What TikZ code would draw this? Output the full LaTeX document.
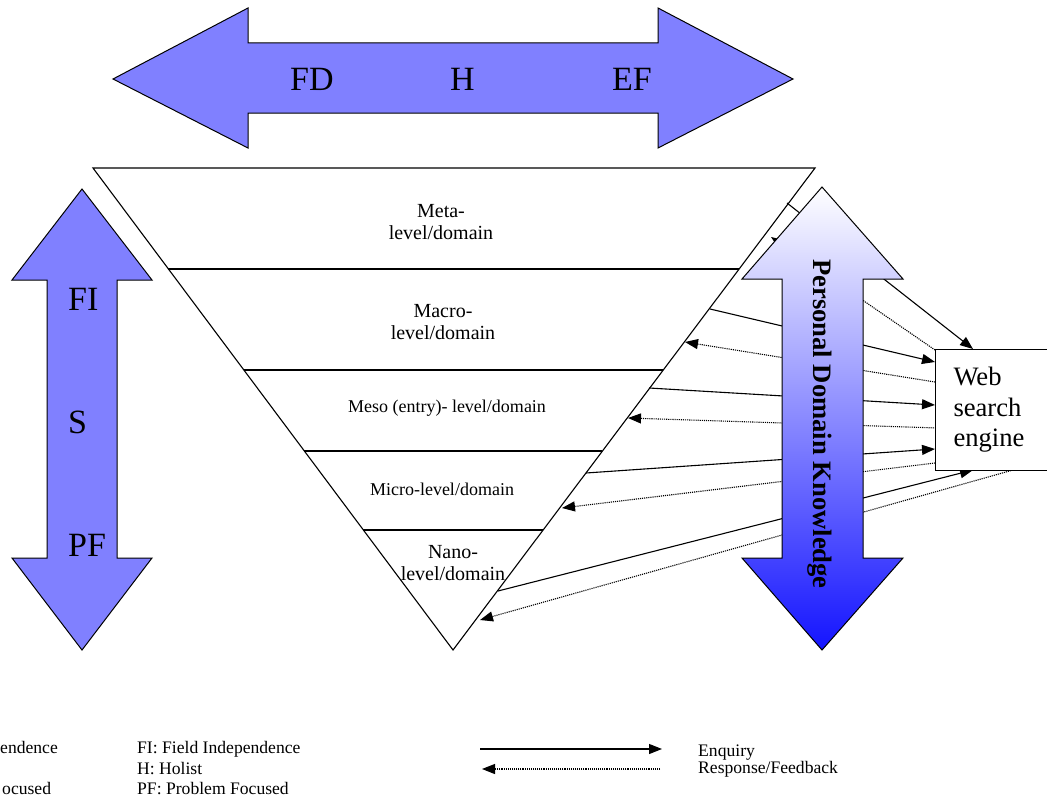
\documentclass[tikz,border=0pt]{standalone}
\usepackage{fontspec}
\setmainfont{Liberation Serif}
\usepackage{tikz}
\usetikzlibrary{arrows.meta,calc}
\definecolor{arrowblue}{RGB}{128,128,255}
\definecolor{paleblue}{RGB}{186,186,255}
\definecolor{deepblue}{RGB}{20,20,255}
\tikzset{
	bigarrow/.style={fill=arrowblue,draw=black,line width=1pt},
	biglabel/.style={anchor=base west,inner sep=0pt,font=\fontsize{34}{36}\selectfont},
	level/.style={align=center,font=\fontsize{20}{22}\selectfont},
	smalllevel/.style={anchor=base,font=\fontsize{18}{20}\selectfont},
	enquiry/.style={-{Triangle[length=13pt,width=10pt]},line width=1.1pt},
	response/.style={-{Triangle[length=13pt,width=10pt]},densely dotted,line width=1.1pt},
	legendtext/.style={anchor=base west,inner sep=0pt,font=\fontsize{17.6}{20}\selectfont}
}

\begin{document}
\begin{tikzpicture}[x=1pt,y=-1pt]
	\useasboundingbox (0,0) rectangle (1047,800);
	\clip (0,0) rectangle (1047,800);
	% levels
	\coordinate (tl) at (93,168);
	\coordinate (tr) at (815,168);
	\coordinate (tb) at (453,650);
	\draw[line width=1.1pt] (tl) -- (tr) -- (tb) -- cycle;
	\foreach \t in {0.2095,0.419,0.5871,0.751}
	{
		\draw[line width=1.1pt] ($(tl)!\t!(tb)$) -- ($(tr)!\t!(tb)$);
	}
	\node[level] (meta) at (441,222) {Meta-\\level/domain};
	\node[level] (macro) at (443,322) {Macro-\\level/domain};
	\node[smalllevel] (meso) at (447,412) {Meso (entry)- level/domain};
	\node[smalllevel] (micro) at (442,495) {Micro-level/domain};
	\node[level] (nano) at (453,563) {Nano-\\level/domain};

	% enquiry / response
	\coordinate (e1) at (787,203);  \coordinate (w1) at (973,349);
	\coordinate (e2) at (710,309);  \coordinate (w2) at (935,362);
	\coordinate (e3) at (649,388);  \coordinate (w3) at (935,405);
	\coordinate (e4) at (586,473);  \coordinate (w4) at (935,449);
	\coordinate (e5) at (498,591);  \coordinate (w5) at (973,470);
	\coordinate (r1) at (935,350);  \coordinate (t1) at (771,237);
	\coordinate (r2) at (935,382);  \coordinate (t2) at (685,342);
	\coordinate (r3) at (938,428);  \coordinate (t3) at (628,418);
	\coordinate (r4) at (935,463);  \coordinate (t4) at (562,508);
	\coordinate (r5) at (1013,470); \coordinate (t5) at (480,620);
	\foreach \i in {1,...,5}
	{
		\draw[enquiry] (e\i) -- (w\i);
		\draw[response] (r\i) -- (t\i);
	}

	% personal domain knowledge
	\path[draw=black,line width=1pt,top color=white,middle color=paleblue,bottom color=deepblue]
		(822,187) -- (903,279) -- (863,279) -- (863,558) -- (903,558) -- (822,650)
		-- (742,558) -- (782,558) -- (782,279) -- (742,279) -- cycle;
	\node[rotate=-90,font=\bfseries\fontsize{26.6}{28}\selectfont] (pdk) at (820,424) {Personal Domain Knowledge};

	\node[draw,fill=white,line width=1pt,anchor=north west,minimum height=121pt,text width=80pt,
		inner xsep=18pt,align=left,font=\fontsize{26.6}{30.5}\selectfont] (web) at (935,349) {Web\\search\\engine};

	% styles
	\filldraw[bigarrow] (113,79) -- (248,8) -- (248,43) -- (658,43) -- (658,8) -- (793,79)
		-- (658,148) -- (658,113) -- (248,113) -- (248,148) -- cycle;
	\node[biglabel] (fd) at (290,90) {FD};
	\node[biglabel] (h) at (450,90) {H};
	\node[biglabel] (ef) at (612,90) {EF};

	\filldraw[bigarrow] (82,189) -- (152,280) -- (117,280) -- (117,558) -- (152,558) -- (82,650)
		-- (12,558) -- (47,558) -- (47,280) -- (12,280) -- cycle;
	\node[biglabel] (fi) at (68,310) {FI};
	\node[biglabel] (s) at (68,433) {S};
	\node[biglabel] (pf) at (68,556) {PF};

	% legend
	\node[legendtext] (dep) at (0,753) {endence};
	\node[legendtext] (foc) at (2,794) {ocused};
	\node[legendtext] (fileg) at (137,753) {FI: Field Independence};
	\node[legendtext] (hleg) at (137,774) {H: Holist};
	\node[legendtext] (pfleg) at (137,794) {PF: Problem Focused};
	\coordinate (la) at (480,749);  \coordinate (lb) at (662,749);
	\coordinate (lc) at (660,769);  \coordinate (ld) at (482,769);
	\draw[enquiry] (la) -- (lb);
	\draw[response] (lc) -- (ld);
	\node[legendtext] (enq) at (698,756) {Enquiry};
	\node[legendtext] (resp) at (698,773) {Response/Feedback};
\end{tikzpicture}
\end{document}
